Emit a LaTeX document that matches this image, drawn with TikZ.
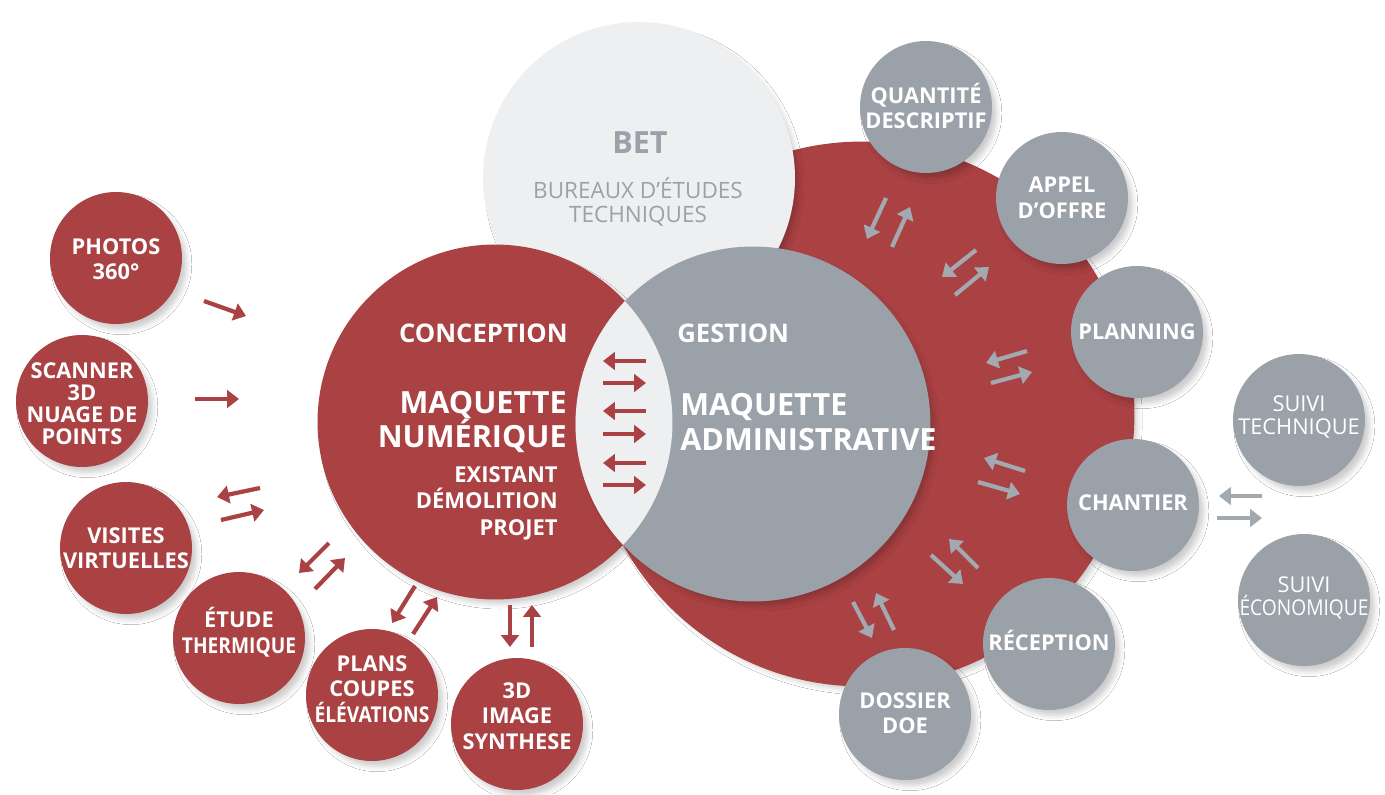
\documentclass[tikz,border=0pt]{standalone}
\usepackage{fontspec}
\usepackage{graphicx}
\setmainfont{Open Sans}
\usetikzlibrary{arrows.meta,shadows.blur}

\definecolor{bimred}{RGB}{170,65,67}
\definecolor{bimgrey}{RGB}{155,161,169}
\definecolor{bimlight}{RGB}{238,239,241}
\definecolor{arrowgrey}{RGB}{163,169,176}

\newcommand{\sqz}[1]{\scalebox{0.88}[1]{#1}}

\tikzset{
  softshadow/.style={blur shadow={shadow xshift=3pt, shadow yshift=-3.5pt, shadow scale=0.99, shadow blur radius=3pt, shadow opacity=20}},
  disc/.style={circle, inner sep=0pt, softshadow},
  bub/.style={disc, minimum size=2.64cm},
  redbub/.style={bub, fill=bimred},
  greybub/.style={bub, fill=bimgrey},
  lbl/.style={text=white, align=center, inner sep=0pt, font=\bfseries\fontsize{12.4}{14.5}\selectfont},
  lblreg/.style={lbl, font=\fontsize{12.4}{13.2}\selectfont},
  headtxt/.style={text=white, inner sep=0pt, font=\bfseries\fontsize{14.6}{17}\selectfont},
  bigtxt/.style={text=white, inner sep=0pt, font=\bfseries\fontsize{17.4}{19.8}\selectfont},
  redarrow/.style={color=bimred, line width=2.4pt, -{Triangle[length=6.8pt,width=10pt]}},
  greyarrow/.style={redarrow, color=arrowgrey},
}

\begin{document}
\begin{tikzpicture}[x=0.02cm, y=-0.02cm]
  \useasboundingbox (0,0) rectangle (1385,794);
  \fill[white] (0,0) rectangle (1385,794);

  % large discs
  \node[disc, fill=bimred, minimum size=10.9cm] (hub) at (862,414) {};
  \node[disc, fill=bimlight, minimum size=6.24cm] (bet) at (639,178) {};
  \node[disc, fill=bimred, minimum size=7.1cm] (concep) at (495,422) {};
  \node[disc, fill=bimgrey, minimum size=7.1cm] (gest) at (753,424) {};
  \begin{scope}
    \clip (concep.center) circle[radius=3.55cm];
    \fill[bimlight] (gest.center) circle[radius=3.55cm];
  \end{scope}

  % texts of the large discs
  \node[text=bimgrey, inner sep=0pt, font=\bfseries\fontsize{17.4}{19}\selectfont] (bet-h) at (640,143) {BET};
  \node[text=bimgrey, inner sep=0pt, align=center, font=\fontsize{12.8}{13.6}\selectfont] (bet-t) at (638,202) {BUREAUX D’ÉTUDES\\TECHNIQUES};
  \node[headtxt, anchor=east] (concep-h) at (568,333) {CONCEPTION};
  \node[bigtxt, anchor=east, align=right] (concep-t) at (567,422) {MAQUETTE\\NUMÉRIQUE};
  \node[lbl, anchor=east, align=right, font=\bfseries\fontsize{12.5}{15}\selectfont] (concep-s) at (558,503) {EXISTANT\\DÉMOLITION\\PROJET};
  \node[headtxt, anchor=west] (gest-h) at (677,333) {GESTION};
  \node[bigtxt, anchor=west, align=left] (gest-t) at (680,422) {MAQUETTE\\ADMINISTRATIVE};

  % red bubbles
  \foreach \n/\x/\y/\dy/\t in {photos/116/258/1/{PHOTOS\\360°},
                              visites/126/548/0/{VISITES\\VIRTUELLES},
                              etude/239/638/-6/{ÉTUDE\\\sqz{THERMIQUE}},
                              plans/372/695/-6/{PLANS\\COUPES\\\sqz{ÉLÉVATIONS}},
                              synth/517/724/-8/{3D\\IMAGE\\SYNTHESE}}{
    \node[redbub] (\n) at (\x,\y) {};
    \node[lbl] (\n-t) at ([yshift=-\dy*0.02cm]\n) {\t};
  }
  \node[redbub] (scan) at (82,401) {};
  \node[lbl, font=\bfseries\fontsize{12.4}{12.6}\selectfont] (scan-t) at ([yshift=-0.06cm]scan) {SCANNER\\3D\\NUAGE DE\\POINTS};

  % grey bubbles
  \foreach \n/\x/\y/\dy/\t in {quant/926/107/-1/{QUANTITÉ\\DESCRIPTIF},
                              appel/1062/198/0/{APPEL\\D’OFFRE},
                              planning/1137/332/0/{PLANNING},
                              chantier/1133/505/-2/{CHANTIER},
                              reception/1049/644/-4/{RÉCEPTION},
                              dossier/905/714/-1/{DOSSIER\\DOE}}{
    \node[greybub] (\n) at (\x,\y) {};
    \node[lbl] (\n-t) at ([yshift=-\dy*0.02cm]\n) {\t};
  }
  \node[greybub] (suivit) at (1299,420) {};
  \node[lblreg] (suivit-t) at ([yshift=0.06cm]suivit) {SUIVI\\TECHNIQUE};
  \node[greybub] (suivie) at (1304,600) {};
  \node[lblreg] (suivie-t) at ([yshift=0.04cm]suivie) {SUIVI\\\sqz{ÉCONOMIQUE}};

  % red arrows
  \foreach \n/\xa/\ya/\xb/\yb in {ra/204/301/246/316, rb/195/399/239/399,
                                  rc/260/488/217/497, rd/221/520/264/510,
                                  re/329/543/299/573, rf/315/589/345/558,
                                  rg/415/586/392/623, rh/413/634/437/597,
                                  ri/510/605/510/647, rj/532/647/532/605,
                                  la/646/361/603/361, lb/603/383/646/383,
                                  lc/646/411/603/411, ld/603/434/646/434,
                                  le/646/463/603/463, lf/603/485/646/485}
    \draw[redarrow] (\xa,\ya) coordinate (\n s) -- (\xb,\yb) coordinate (\n e);

  % grey arrows
  \foreach \n/\xa/\ya/\xb/\yb in {ga/886/198/867/239, gb/892/247/910/207,
                                  gc/976/250/942/277, gd/955/295/989/267,
                                  ge/1027/351/986/363, gf/991/383/1032/372,
                                  gg/1025/471/984/458, gh/978/482/1020/494,
                                  gi/978/568/949/539, gj/931/555/963/584,
                                  gk/894/630/876/593, gl/853/602/872/638,
                                  gm/1262/496/1219/496, gn/1217/518/1262/518}
    \draw[greyarrow] (\xa,\ya) coordinate (\n s) -- (\xb,\yb) coordinate (\n e);
\end{tikzpicture}
\end{document}
